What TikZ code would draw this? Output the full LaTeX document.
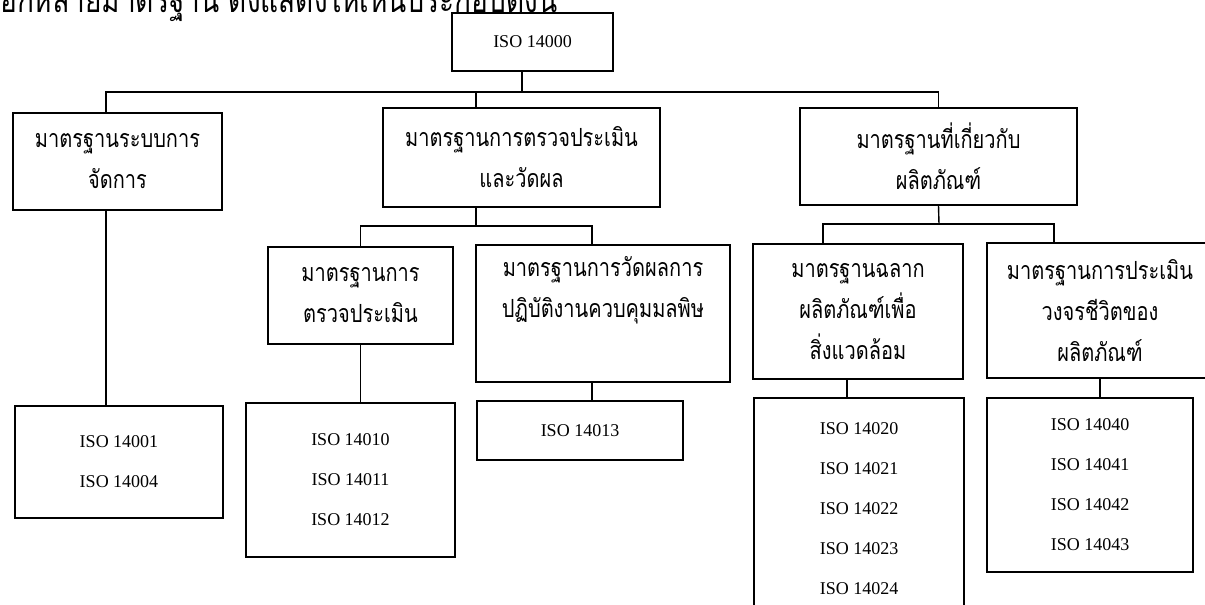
\documentclass[tikz,border=0pt]{standalone}
\usepackage{fontspec}
\setmainfont{Liberation Serif}
\newfontfamily\thaifont[Script=Thai,FakeStretch=0.8]{Loma}

\begin{document}
\begin{tikzpicture}[x=1pt,y=-1pt,
    box/.style={draw, line width=1.4pt, inner sep=0pt, align=center},
    thaibox/.style={box, font=\thaifont\fontsize{25}{41}\selectfont},
    isobox/.style={box, font=\fontsize{18}{40}\selectfont},
    link/.style={line width=1.4pt}]
    \useasboundingbox (0,0) rectangle (1205,605);

    \coordinate (bus) at (522,92);
    \coordinate (split2) at (476,226);
    \coordinate (split3) at (939,224);
    \coordinate (col1) at (106,0);
    \coordinate (col22) at (592,0);
    \coordinate (col31a) at (823,0);
    \coordinate (col31b) at (847,0);
    \coordinate (col32a) at (1054,0);

    \node[anchor=base west, inner sep=0pt, font=\thaifont\fontsize{35}{36}\selectfont] (intro) at (0,12.5) {อีกหลายมาตรฐาน ดังแสดงให้เห็นประกอบดังนี้}; % cut at the top
    \node[isobox, minimum width=161pt, minimum height=58pt] (iso) at (532.5,42) {ISO 14000};

    \node[thaibox, minimum width=209pt, minimum height=97pt] (cat1) at (117.5,161.5) {มาตรฐานระบบการ\\จัดการ};
    \node[thaibox, minimum width=277pt, minimum height=99pt] (cat2) at (521.5,157.5) {มาตรฐานการตรวจประเมิน\\และวัดผล};
    \node[thaibox, minimum width=277pt, minimum height=97pt] (cat3) at (938.5,156.5) {มาตรฐานที่เกี่ยวกับ\\ผลิตภัณฑ์};

    \node[thaibox, minimum width=185pt, minimum height=97pt] (sub21) at (360.5,295.5) {มาตรฐานการ\\ตรวจประเมิน};
    \node[thaibox, minimum width=254pt, minimum height=137pt] (sub22) at (603,313.5) {มาตรฐานการวัดผลการ\\ปฏิบัติงานควบคุมมลพิษ\\\strut}; % text sits high
    \node[thaibox, minimum width=210pt, minimum height=135pt] (sub31) at (858,311.5) {มาตรฐานฉลาก\\ผลิตภัณฑ์เพื่อ\\สิ่งแวดล้อม};
    \node[thaibox, minimum width=226pt, minimum height=135pt] (sub32) at (1100,310.5) {มาตรฐานการประเมิน\\วงจรชีวิตของ\\ผลิตภัณฑ์}; % runs off the right edge

    \node[isobox, minimum width=208pt, minimum height=112pt] (leaf1) at (119,462) {ISO 14001\\ISO 14004};
    \node[isobox, minimum width=209pt, minimum height=154pt] (leaf21) at (350.5,480) {ISO 14010\\ISO 14011\\ISO 14012};
    \node[isobox, minimum width=206pt, minimum height=59pt] (leaf22) at (580,430.5) {ISO 14013};
    \node[isobox, minimum width=210pt, minimum height=222pt] (leaf31) at (859,509) {ISO 14020\\ISO 14021\\ISO 14022\\ISO 14023\\ISO 14024}; % runs off the bottom
    \node[isobox, minimum width=206pt, minimum height=174pt] (leaf32) at (1090,485) {ISO 14040\\ISO 14041\\ISO 14042\\ISO 14043};

    \draw[link] (iso.south -| bus) -- (bus);
    \draw[link] (col1 |- cat1.north) |- (bus) -| (cat3.north); % top bus
    \draw[link] (split2 |- cat2.north) -- (split2 |- bus);
    \draw[link] (split2 |- cat2.south) -- (split2);
    \draw[link] (sub21.north) |- (split2) -| (col22 |- sub22.north);
    \draw[link] (cat3.south) -- (split3);
    \draw[link] (col31a |- sub31.north) |- (split3) -| (col32a |- sub32.north);

    \draw[link] (col1 |- cat1.south) -- (col1 |- leaf1.north);
    \draw[link] (sub21.south) -- (sub21.south |- leaf21.north);
    \draw[link] (col22 |- sub22.south) -- (col22 |- leaf22.north);
    \draw[link] (col31b |- sub31.south) -- (col31b |- leaf31.north);
    \draw[link] (sub32.south) -- (sub32.south |- leaf32.north);
\end{tikzpicture}
\end{document}
